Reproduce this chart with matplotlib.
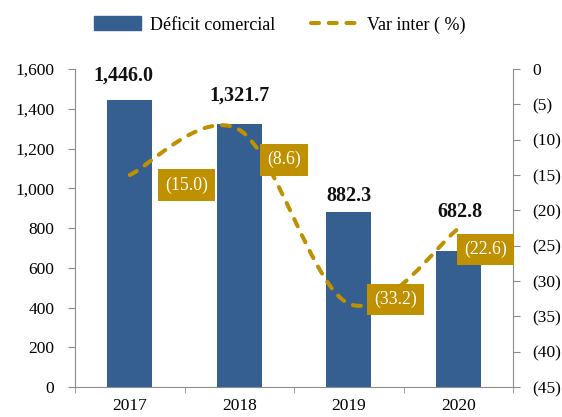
"""Déficit comercial y variación interanual, 2017-2020."""

import matplotlib.pyplot as plt
from matplotlib.path import Path
from matplotlib.patches import PathPatch, Patch
from matplotlib.lines import Line2D

years = ["2017", "2018", "2019", "2020"]
deficit = [1446.0, 1321.7, 882.3, 682.8]
var_inter = [-15.0, -8.6, -33.2, -22.6]

BLUE = "#365F91"
GOLD = "#BF9000"
GRAY = "#8C8C8C"
DASH = (0, (2.0, 2.4))

plt.rcParams["font.family"] = ["Liberation Serif", "DejaVu Serif"]

fig = plt.figure(figsize=(5.62, 4.17), dpi=100)
ax = fig.add_axes([75 / 562, 30 / 417, 438 / 562, 318 / 417])
ax2 = ax.twinx()

x = list(range(len(years)))

#Bars
ax.bar(x, deficit, width=0.41, color=BLUE, zorder=2)
ax.set_xlim(-0.5, len(years) - 0.5)
ax.set_ylim(0, 1600)
ax.set_yticks(range(0, 1601, 200))
ax.set_yticklabels([f"{v:,}" for v in range(0, 1601, 200)])
ax.set_xticks(x)
ax.set_xticklabels(years)
ax.set_xticks([i - 0.5 for i in range(len(years) + 1)], minor=True)
ax.tick_params(axis="x", which="major", length=0, pad=8, labelsize=12.5)
ax.tick_params(axis="x", which="minor", length=4, color=GRAY, direction="out")
ax.tick_params(axis="y", length=5, color=GRAY, pad=10, labelsize=12.5)

#Right axis: 0 on top, negatives shown in parentheses
ax2.set_ylim(-45, 0)
ticks2 = list(range(-45, 1, 5))
ax2.set_yticks(ticks2)
ax2.set_yticklabels(["0" if t == 0 else f"({-t})" for t in ticks2])
ax2.tick_params(axis="y", length=5, color=GRAY, pad=9, labelsize=12.5)

for a in (ax, ax2):
    a.spines["top"].set_visible(False)
    for s in ("left", "right", "bottom"):
        a.spines[s].set_color(GRAY)
ax.spines["right"].set_visible(False)
ax2.spines["left"].set_visible(False)
ax2.spines["bottom"].set_visible(False)

#Smoothed line (Catmull-Rom style bezier through the points)
pts = list(zip(x, var_inter))
verts = [pts[0]]
codes = [Path.MOVETO]
for i in range(len(pts) - 1):
    p0 = pts[max(i - 1, 0)]
    p1 = pts[i]
    p2 = pts[i + 1]
    p3 = pts[min(i + 2, len(pts) - 1)]
    c1 = (p1[0] + (p2[0] - p0[0]) / 6, p1[1] + (p2[1] - p0[1]) / 6)
    c2 = (p2[0] - (p3[0] - p1[0]) / 6, p2[1] - (p3[1] - p1[1]) / 6)
    verts += [c1, c2, p2]
    codes += [Path.CURVE4] * 3
curve = PathPatch(Path(verts, codes), fill=False, edgecolor=GOLD, lw=2.9,
                  linestyle=DASH, capstyle="round", zorder=3)
ax2.add_patch(curve)

#Bar value labels
bar_offsets = [(-6, 24), (0, 29), (0, 16), (2, 39)]
for xi, v, off in zip(x, deficit, bar_offsets):
    ax.annotate(f"{v:,.1f}", (xi, v), xytext=off, textcoords="offset pixels",
                ha="center", va="center", fontsize=14.5, fontweight="bold",
                color="#111111", zorder=5)

#Line value labels in gold boxes
box_offsets = [(57, -10), (45, -30), (47, 4), (27, -21)]
for xi, v, off in zip(x, var_inter, box_offsets):
    ax2.annotate(f"({-v:.1f})", (xi, v), xytext=off, textcoords="offset pixels",
                 ha="center", va="center", fontsize=12.8, color="white",
                 bbox=dict(boxstyle="square,pad=0.4", fc=GOLD, ec="none"),
                 zorder=6)

#Legend
handles = [Patch(color=BLUE, label="Déficit comercial"),
           Line2D([], [], color=GOLD, lw=2.9, linestyle=DASH,
                  dash_capstyle="round", label="Var inter ( %)")]
fig.legend(handles=handles, loc="center", bbox_to_anchor=(280 / 562, 1 - 25 / 417),
           ncol=2, frameon=False, fontsize=13, handlelength=2.6,
           handleheight=0.8, columnspacing=2.0, handletextpad=0.5)

fig.savefig("out.png", dpi=100)
